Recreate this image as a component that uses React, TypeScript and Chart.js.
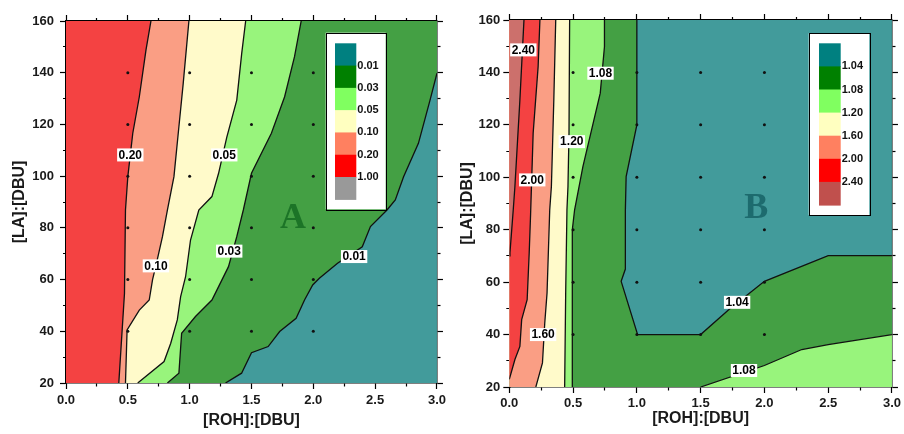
import React, { useEffect, useRef } from 'react';
import { Chart, registerables } from 'chart.js';

Chart.register(...registerables);

type P = [number, number];

// ---------------- Chart A data ----------------
const A_LINE_001: P[] = [[1.29, 20], [1.42, 23.8], [1.5, 31.7], [1.635, 34.1], [1.728, 39.9], [1.861, 45], [1.929, 52.1], [1.995, 57.9], [2.049, 60.5], [2.196, 66.3], [2.396, 72.7], [2.462, 80.5], [2.596, 86.9], [2.663, 90.8], [2.73, 99.8], [2.85, 112.7], [2.944, 129.4], [3.0, 139.8]];
const A_LINE_003: P[] = [[0.82, 20], [0.913, 23.8], [0.935, 39.2], [1.047, 45.7], [1.18, 52.1], [1.221, 56], [1.314, 65], [1.381, 76.6], [1.434, 86.9], [1.5, 101.1], [1.661, 116.6], [1.768, 130.7], [1.848, 146.2], [1.902, 160]];
const A_LINE_005: P[] = [[0.58, 20], [0.793, 28.3], [0.847, 35.4], [0.9, 44.4], [0.927, 53.4], [0.967, 61.1], [1.007, 75.3], [1.074, 86.9], [1.18, 92.1], [1.234, 101.1], [1.3, 115], [1.381, 129.4], [1.421, 147.5], [1.453, 160]];
const A_LINE_010: P[] = [[0.481, 20], [0.494, 40.5], [0.593, 48.2], [0.673, 52.1], [0.7, 60], [0.73, 66], [0.78, 76.6], [0.82, 86.9], [0.873, 99.8], [0.913, 119.1], [0.948, 135.9], [0.98, 152.7], [0.994, 160]];
const A_LINE_020: P[] = [[0.427, 20], [0.473, 54.7], [0.481, 86.9], [0.5, 99.8], [0.54, 116.6], [0.593, 130.7], [0.647, 148.8], [0.687, 160]];

const A_LABEL_TEXT = ['0.20', '0.05', '0.10', '0.03', '0.01'];
const A_LABEL_X = [0.52, 1.28, 0.727, 1.32, 2.33];
const A_LABEL_Y = [108.2, 108.2, 65.3, 71, 68.9];

const A_LEGEND_LEVELS = ['0.01', '0.03', '0.05', '0.10', '0.20', '1.00'];
const A_LEGEND_COLORS = ['#008080', '#008000', '#80ff60', '#ffffc0', '#ff8060', '#ff0000', '#999999'];

// ---------------- Chart B data ----------------
const B_LINE_240: P[] = [[0, 70], [0.005, 71.1], [0.031, 87.6], [0.044, 96.5], [0.083, 129.5], [0.115, 160]];
const B_LINE_200: P[] = [[0, 22.9], [0.044, 30.5], [0.083, 35.5], [0.097, 45.7], [0.14, 53.3], [0.156, 71.1], [0.167, 86], [0.187, 116.8], [0.226, 142.2], [0.24, 160]];
const B_LINE_160: P[] = [[0.208, 20], [0.26, 29.2], [0.278, 44.4], [0.296, 55.9], [0.317, 87.6], [0.33, 96.5], [0.349, 129.5], [0.364, 160]];
const B_LINE_120: P[] = [[0.434, 20], [0.442, 55.9], [0.452, 87.6], [0.46, 96.5], [0.468, 116.8], [0.473, 160]];
const B_LINE_108L: P[] = [[0.494, 20], [0.494, 80], [0.512, 87.6], [0.577, 104.1], [0.713, 132.1], [0.746, 149.8], [0.746, 160]];
const B_LINE_104: P[] = [[1.0, 160], [1.0, 120], [0.916, 100.3], [0.91, 87.6], [0.91, 65], [0.877, 60.3], [1.006, 40], [1.5, 40], [1.72, 49.5], [2.0, 60.3], [2.5, 70.1], [3.0, 70.1]];
const B_LINE_108R: P[] = [[1.5, 20], [2.0, 28.2], [2.293, 34.3], [2.5, 36.2], [3.0, 40]];

const B_LABEL_TEXT = ['2.40', '1.08', '1.20', '2.00', '1.60', '1.04', '1.08'];
const B_LABEL_X = [0.11, 0.715, 0.49, 0.18, 0.265, 1.786, 1.84];
const B_LABEL_Y = [148.6, 139.7, 113.6, 99, 40, 52.3, 26.3];

const B_LEGEND_LEVELS = ['1.04', '1.08', '1.20', '1.60', '2.00', '2.40'];
const B_LEGEND_COLORS = ['#008080', '#008000', '#80ff60', '#ffffc0', '#ff8060', '#ff0000', '#c0504d'];

// sample grid points
const GRID_X = [0.5, 1.0, 1.5, 2.0];
const GRID_Y = [40, 60, 80, 100, 120, 140];

// axis ranges
const X_MIN = 0, X_MAX = 3, X_STEP = 0.25;
const Y_MIN = 20, Y_MAX = 160, Y_STEP = 10;

// region colours
const C_TEAL = 'rgb(66,155,155)';
const C_DGREEN = 'rgb(68,160,68)';
const C_LGREEN = 'rgb(152,244,124)';
const C_YELLOW = 'rgb(255,250,202)';
const C_SALMON = 'rgb(250,158,132)';
const C_RED = 'rgb(244,66,66)';
const C_BROWN = 'rgb(204,112,108)';

const FONT = '"Liberation Sans", Arial, Helvetica, sans-serif';

const pts = (a: P[]) => a.map(([x, y]) => ({ x, y }));
const leftOf = (line: P[], extra: P[] = []): P[] => [[X_MIN, Y_MIN], ...line, ...extra, [X_MIN, Y_MAX]];
const FULL: P[] = [[X_MIN, Y_MIN], [X_MAX, Y_MIN], [X_MAX, Y_MAX], [X_MIN, Y_MAX]];

function regionSet(poly: P[], color: string, order: number) {
  return {
    data: pts(poly), fill: 'shape', backgroundColor: color, borderColor: 'rgba(0,0,0,0)',
    borderWidth: 0, pointRadius: 0, tension: 0, order,
  };
}
function contourSet(line: P[], order: number) {
  return {
    data: pts(line), fill: false, borderColor: '#111', borderWidth: 1.3, pointRadius: 0, tension: 0, order,
  };
}
function dotSet(order: number) {
  return {
    data: GRID_X.flatMap((x) => GRID_Y.map((y) => ({ x, y }))), showLine: false, fill: false,
    pointRadius: 1.5, pointBackgroundColor: '#111', pointBorderWidth: 0, borderColor: '#111', order,
  };
}

interface Cfg {
  regions: [P[], string][];
  contours: P[][];
  labelText: string[]; labelX: number[]; labelY: number[];
  letter: string; letterColor: string; letterX: number; letterY: number;
  legendColors: string[]; legendLevels: string[];
  legendBox: [number, number, number, number];
  legendBar: [number, number, number, number];
  legendTextX: number;
  top: number; right: number; yWidth: number; xHeight: number;
  yTickPad: number; xTickPad: number; yTitlePad: number; xTitlePad: number;
}

function overlay(c: Cfg) {
  return {
    id: 'overlay',
    afterDatasetsDraw(chart: any) {
      const { ctx, chartArea: a, scales } = chart;
      const xs = scales.x, ys = scales.y;
      ctx.save();
      // contour labels
      ctx.font = `bold 12px ${FONT}`;
      ctx.textAlign = 'center';
      ctx.textBaseline = 'middle';
      c.labelText.forEach((t, i) => {
        const px = xs.getPixelForValue(c.labelX[i]);
        const py = ys.getPixelForValue(c.labelY[i]);
        const w = ctx.measureText(t).width + 3;
        const h = 13;
        ctx.fillStyle = '#fff';
        ctx.fillRect(px - w / 2, py - h / 2, w, h);
        ctx.fillStyle = '#000';
        ctx.fillText(t, px, py + 0.5);
      });
      // big letter
      ctx.font = `bold 36px "Liberation Serif", "Times New Roman", serif`;
      ctx.textBaseline = 'alphabetic';
      ctx.fillStyle = c.letterColor;
      ctx.fillText(c.letter, xs.getPixelForValue(c.letterX), ys.getPixelForValue(c.letterY));
      // colour-scale legend
      const [bx, by, bw, bh] = c.legendBox;
      ctx.fillStyle = '#fff';
      ctx.fillRect(a.left + bx, a.top + by, bw, bh);
      ctx.strokeStyle = '#000';
      ctx.lineWidth = 1;
      ctx.strokeRect(Math.round(a.left + bx) + 0.5, Math.round(a.top + by) + 0.5, Math.round(bw), Math.round(bh));
      const [rx, ry, rw, rh] = c.legendBar;
      const n = c.legendColors.length;
      const ch = rh / n;
      c.legendColors.forEach((col, i) => {
        ctx.fillStyle = col;
        ctx.fillRect(a.left + rx, a.top + ry + i * ch, rw, ch + 0.6);
      });
      ctx.font = `bold 11px ${FONT}`;
      ctx.textAlign = 'left';
      ctx.textBaseline = 'middle';
      ctx.fillStyle = '#111';
      c.legendLevels.forEach((t, i) => {
        ctx.fillText(t, a.left + c.legendTextX, a.top + ry + (i + 1) * ch);
      });
      ctx.restore();
    },
  };
}

const isMajorX = (v: number) => Math.abs(v * 2 - Math.round(v * 2)) < 1e-6;
const isMajorY = (v: number) => Math.abs(v / 20 - Math.round(v / 20)) < 1e-6;

function buildConfig(c: Cfg): any {
  const n = c.regions.length;
  const datasets: any[] = [];
  c.regions.forEach(([poly, col], i) => datasets.push(regionSet(poly, col, 100 - i)));
  c.contours.forEach((l) => datasets.push(contourSet(l, 5)));
  datasets.push(dotSet(1));
  void n;

  const tickFont = { family: FONT, size: 13, weight: 'bold' as const };
  const titleFont = { family: FONT, size: 16, weight: 'bold' as const };
  const border = { display: true, color: '#000', width: 1.5 };
  const TL = 6;
  const dashOut = (major: boolean) => (major ? [] : [3, 60]);
  const dashIn = (major: boolean) => (major ? [] : [0, TL - 3, 3, 60]);
  const gridBase = { drawOnChartArea: false, drawTicks: true, tickLength: TL, tickColor: '#000', tickWidth: 1.2 };

  return {
    type: 'line',
    data: { datasets },
    options: {
      responsive: false,
      maintainAspectRatio: false,
      animation: false,
      events: [],
      layout: { padding: { left: 0, right: c.right, top: c.top, bottom: 0 } },
      plugins: { legend: { display: false }, tooltip: { enabled: false }, title: { display: false } },
      scales: {
        x: {
          type: 'linear', position: 'bottom', min: X_MIN, max: X_MAX,
          ticks: {
            stepSize: X_STEP, autoSkip: false, maxRotation: 0, padding: c.xTickPad, color: '#1a1a1a', font: tickFont,
            callback: (v: any) => (isMajorX(Number(v)) ? Number(v).toFixed(1) : ''),
          },
          grid: { ...gridBase, tickBorderDash: (ctx: any) => dashOut(ctx.tick ? isMajorX(ctx.tick.value) : true) },
          border,
          title: { display: true, text: '[ROH]:[DBU]', color: '#1a1a1a', font: titleFont, padding: { top: 0, bottom: c.xTitlePad } },
          afterFit: (s: any) => { s.height = c.xHeight; },
        },
        x2: {
          type: 'linear', position: 'top', min: X_MIN, max: X_MAX,
          ticks: { stepSize: X_STEP, display: false, autoSkip: false },
          grid: { ...gridBase, tickBorderDash: (ctx: any) => dashIn(ctx.tick ? isMajorX(ctx.tick.value) : true) },
          border,
          afterFit: (s: any) => { s.height = 0; },
        },
        y: {
          type: 'linear', position: 'left', min: Y_MIN, max: Y_MAX,
          ticks: {
            stepSize: Y_STEP, autoSkip: false, padding: c.yTickPad, color: '#1a1a1a', font: tickFont,
            callback: (v: any) => (isMajorY(Number(v)) ? String(v) : ''),
          },
          grid: { ...gridBase, tickBorderDash: (ctx: any) => dashIn(ctx.tick ? isMajorY(ctx.tick.value) : true) },
          border,
          title: { display: true, text: '[LA]:[DBU]', color: '#1a1a1a', font: titleFont, padding: { top: c.yTitlePad, bottom: 0 } },
          afterFit: (s: any) => { s.width = c.yWidth; },
        },
        y2: {
          type: 'linear', position: 'right', min: Y_MIN, max: Y_MAX,
          ticks: { stepSize: Y_STEP, display: false, autoSkip: false },
          grid: { ...gridBase, tickBorderDash: (ctx: any) => dashOut(ctx.tick ? isMajorY(ctx.tick.value) : true) },
          border,
          afterFit: (s: any) => { s.width = 0; },
        },
      },
    },
    plugins: [overlay(c)],
  };
}

const CFG_A: Cfg = {
  regions: [
    [FULL, C_TEAL],
    [leftOf(A_LINE_001, [[X_MAX, Y_MAX]]), C_DGREEN],
    [leftOf(A_LINE_003), C_LGREEN],
    [leftOf(A_LINE_005), C_YELLOW],
    [leftOf(A_LINE_010), C_SALMON],
    [leftOf(A_LINE_020), C_RED],
  ],
  contours: [A_LINE_001, A_LINE_003, A_LINE_005, A_LINE_010, A_LINE_020],
  labelText: A_LABEL_TEXT, labelX: A_LABEL_X, labelY: A_LABEL_Y,
  letter: 'A', letterColor: '#1c7427', letterX: 1.835, letterY: 80,
  legendColors: A_LEGEND_COLORS, legendLevels: A_LEGEND_LEVELS,
  legendBox: [259.7, 11.7, 60, 176.6],
  legendBar: [269, 22.3, 21.3, 156],
  legendTextX: 291.3,
  top: 21, right: 9.7, yWidth: 66, xHeight: 51,
  yTickPad: 6, xTickPad: 4, yTitlePad: 10, xTitlePad: 4,
};

const CFG_B: Cfg = {
  regions: [
    [FULL, C_TEAL],
    [[[X_MIN, Y_MIN], [X_MAX, Y_MIN], ...[...B_LINE_104].reverse(), [X_MIN, Y_MAX]], C_DGREEN],
    [[...B_LINE_108R, [X_MAX, Y_MIN]], C_LGREEN],
    [leftOf(B_LINE_108L), C_LGREEN],
    [leftOf(B_LINE_120), C_YELLOW],
    [leftOf(B_LINE_160), C_SALMON],
    [leftOf(B_LINE_200), C_RED],
    [leftOf(B_LINE_240), C_BROWN],
  ],
  contours: [B_LINE_240, B_LINE_200, B_LINE_160, B_LINE_120, B_LINE_108L, B_LINE_104, B_LINE_108R],
  labelText: B_LABEL_TEXT, labelX: B_LABEL_X, labelY: B_LABEL_Y,
  letter: 'B', letterColor: '#1d6b6e', letterX: 1.936, letterY: 84.6,
  legendColors: B_LEGEND_COLORS, legendLevels: B_LEGEND_LEVELS,
  legendBox: [299.4, 13.3, 60.6, 181.7],
  legendBar: [309.7, 23.3, 21.7, 161.7],
  legendTextX: 332.4,
  top: 20, right: 10, yWidth: 59.3, xHeight: 47,
  yTickPad: 3, xTickPad: 3, yTitlePad: 8, xTitlePad: 6,
};

function ContourChart({ cfg, left, width }: { cfg: Cfg; left: number; width: number }) {
  const ref = useRef<HTMLCanvasElement>(null);
  useEffect(() => {
    if (!ref.current) return;
    const chart = new Chart(ref.current, buildConfig(cfg));
    return () => chart.destroy();
  }, [cfg]);
  return (
    <canvas
      ref={ref}
      width={width}
      height={434}
      style={{ position: 'absolute', left, top: 0, width, height: 434 }}
    />
  );
}

export default function App() {
  return (
    <div style={{ position: 'fixed', left: 0, top: 0, width: 904, height: 434, background: '#fff', overflow: 'hidden' }}>
      <ContourChart cfg={CFG_A} left={0} width={450} />
      <ContourChart cfg={CFG_B} left={450} width={454} />
    </div>
  );
}
